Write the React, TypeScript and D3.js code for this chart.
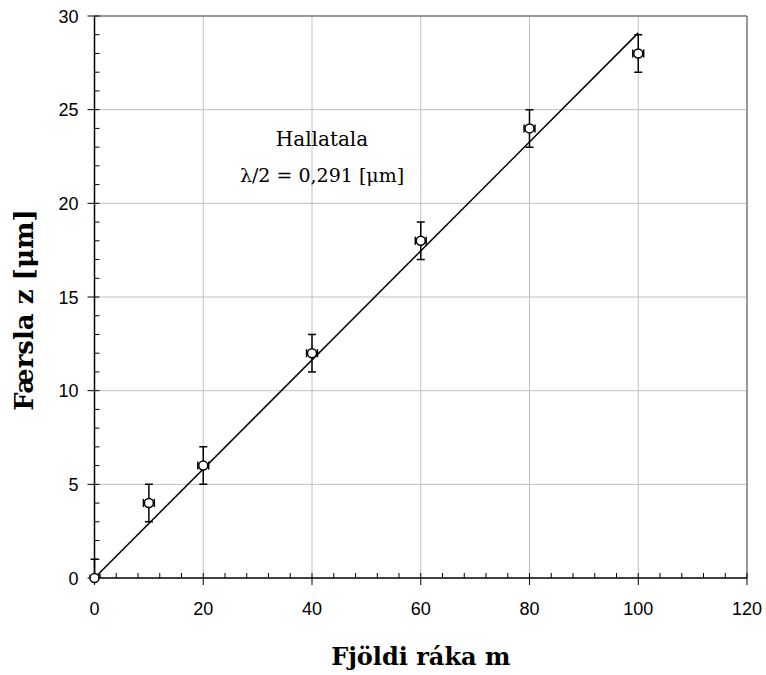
import React, { useRef, useEffect } from 'react';
import * as d3 from 'd3';

const fringes = [0, 10, 20, 40, 60, 80, 100];
const shift = [0, 4, 6, 12, 18, 24, 28];
const shiftErr = [1, 1, 1, 1, 1, 1, 1];
const fringeErr = [1, 1, 1, 1, 1, 1, 1];
const slope = 0.291;
const xTicks = [0, 20, 40, 60, 80, 100, 120];
const yTicks = [0, 5, 10, 15, 20, 25, 30];

const W = 766;
const H = 675;
const m = { left: 94.5, right: 19, top: 16, bottom: 97 };

const App = () => {
  const svgRef = useRef<SVGSVGElement>(null);

  useEffect(() => {
    document.body.style.margin = '0';
    const svg = d3.select(svgRef.current);
    svg.selectAll('*').remove();

    const x = d3.scaleLinear().domain([0, 120]).range([m.left, W - m.right]);
    const y = d3.scaleLinear().domain([0, 30]).range([H - m.bottom, m.top]);

    // grid
    const grid = svg.append('g').attr('stroke', '#c0c0c0').attr('stroke-width', 1);
    xTicks.slice(1).forEach(t => {
      grid.append('line').attr('x1', x(t)).attr('x2', x(t)).attr('y1', y(0)).attr('y2', y(30));
    });
    yTicks.slice(1).forEach(t => {
      grid.append('line').attr('x1', x(0)).attr('x2', x(120)).attr('y1', y(t)).attr('y2', y(t));
    });
    svg.append('line').attr('x1', x(0)).attr('x2', x(120)).attr('y1', y(30)).attr('y2', y(30))
      .attr('stroke', '#808080').attr('stroke-width', 1.5);
    svg.append('line').attr('x1', x(120)).attr('x2', x(120)).attr('y1', y(0)).attr('y2', y(30))
      .attr('stroke', '#808080').attr('stroke-width', 1.5);

    // axes
    const ax = svg.append('g').attr('stroke', '#000').attr('stroke-width', 1);
    ax.append('line').attr('x1', x(0)).attr('x2', x(0)).attr('y1', y(0)).attr('y2', y(30)).attr('stroke-width', 1.5);
    ax.append('line').attr('x1', x(0)).attr('x2', x(120)).attr('y1', y(0)).attr('y2', y(0)).attr('stroke-width', 1.5);
    d3.range(0, 121, 4).forEach(t => {
      const major = xTicks.includes(t);
      ax.append('line').attr('x1', x(t)).attr('x2', x(t))
        .attr('y1', major ? y(0) + 7 : y(0)).attr('y2', y(0) - 5);
    });
    d3.range(0, 31, 1).forEach(t => {
      const major = yTicks.includes(t);
      ax.append('line').attr('y1', y(t)).attr('y2', y(t))
        .attr('x1', major ? x(0) - 7 : x(0)).attr('x2', x(0) + 5);
    });

    const tickFont = "'Liberation Sans', Arial, sans-serif";
    svg.append('g').selectAll('text').data(xTicks).join('text')
      .attr('x', d => x(d)).attr('y', y(0) + 37)
      .attr('text-anchor', 'middle').attr('font-family', tickFont).attr('font-size', 18)
      .text(d => d);
    svg.append('g').selectAll('text').data(yTicks).join('text')
      .attr('x', x(0) - 16).attr('y', d => y(d) + 6.5)
      .attr('text-anchor', 'end').attr('font-family', tickFont).attr('font-size', 18)
      .text(d => d);

    // fit line
    svg.append('line')
      .attr('x1', x(0)).attr('y1', y(0)).attr('x2', x(100)).attr('y2', y(slope * 100))
      .attr('stroke', '#000').attr('stroke-width', 1.5);

    // error bars + points
    svg.append('clipPath').attr('id', 'plotclip').append('rect')
      .attr('x', x(0) - 5).attr('y', y(30) - 5).attr('width', x(120) - x(0) + 10).attr('height', y(0) - y(30) + 5);
    const bars = svg.append('g').attr('clip-path', 'url(#plotclip)');
    const dots = svg.append('g');
    fringes.forEach((f, i) => {
      const cx = x(f), cy = y(shift[i]);
      const yt = y(shift[i] + shiftErr[i]), yb = y(shift[i] - shiftErr[i]);
      const xl = x(f - fringeErr[i]), xr = x(f + fringeErr[i]);
      const g = bars.append('g').attr('stroke', '#000').attr('stroke-width', 1.5);
      g.append('line').attr('x1', cx).attr('x2', cx).attr('y1', yt).attr('y2', yb);
      g.append('line').attr('x1', cx - 4).attr('x2', cx + 4).attr('y1', yt).attr('y2', yt);
      g.append('line').attr('x1', cx - 4).attr('x2', cx + 4).attr('y1', yb).attr('y2', yb);
      g.append('line').attr('x1', xl).attr('x2', xr).attr('y1', cy).attr('y2', cy);
      g.append('line').attr('x1', xl).attr('x2', xl).attr('y1', cy - 4).attr('y2', cy + 4);
      g.append('line').attr('x1', xr).attr('x2', xr).attr('y1', cy - 4).attr('y2', cy + 4);
      dots.append('circle').attr('cx', cx).attr('cy', cy).attr('r', 4.5)
        .attr('fill', '#fff').attr('stroke', '#000').attr('stroke-width', 1.5);
    });

    // annotation
    const serif = "'DejaVu Serif', 'Liberation Serif', serif";
    svg.append('text').attr('x', 322).attr('y', 146).attr('text-anchor', 'middle')
      .attr('font-family', serif).attr('font-size', 20).text('Hallatala');
    svg.append('text').attr('x', 322).attr('y', 182).attr('text-anchor', 'middle')
      .attr('font-family', serif).attr('font-size', 19).text('λ/2 = 0,291 [μm]');

    // axis titles
    svg.append('text').attr('x', (x(0) + x(120)) / 2).attr('y', 665).attr('text-anchor', 'middle')
      .attr('font-family', serif).attr('font-weight', 'bold').attr('font-size', 24)
      .text('Fjöldi ráka m');
    svg.append('text').attr('transform', `translate(33,310) rotate(-90)`)
      .attr('text-anchor', 'middle')
      .attr('font-family', serif).attr('font-weight', 'bold').attr('font-size', 26)
      .text('Færsla z [μm]');
  }, []);

  return <svg ref={svgRef} width={W} height={H} style={{ display: 'block', background: '#fff' }} />;
};

export default App;
